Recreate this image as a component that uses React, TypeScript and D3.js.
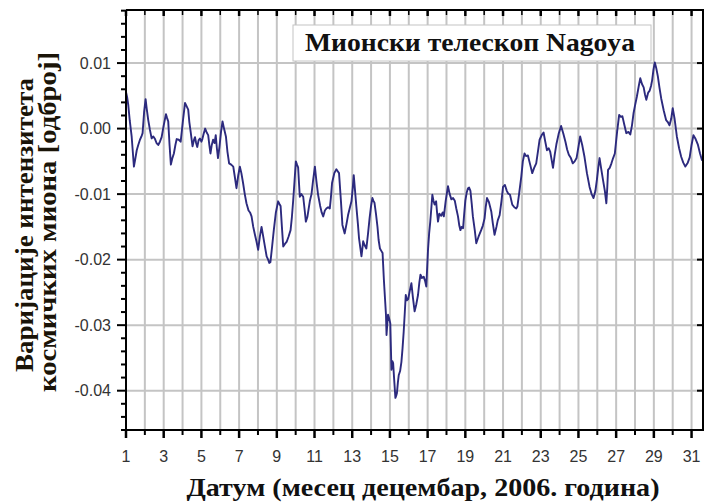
import React, { useEffect, useRef } from 'react';
import * as d3 from 'd3';

// hourly-ish muon variation (day of December 2006)
const days = [
  1.0, 1.06, 1.12, 1.2, 1.3, 1.36, 1.42, 1.5, 1.57, 1.65, 1.74, 1.82, 1.88, 1.96, 2.04, 2.1, 2.18, 2.27, 2.36, 2.45,
  2.54, 2.62, 2.71, 2.8, 2.89, 3.0, 3.12, 3.18, 3.24, 3.31, 3.38, 3.46, 3.54, 3.62, 3.69, 3.8, 3.9, 4.02, 4.13, 4.2,
  4.3, 4.36, 4.43, 4.53, 4.6, 4.66, 4.72, 4.78, 4.85, 4.92, 5.0, 5.05, 5.12, 5.2, 5.28, 5.36, 5.42, 5.48, 5.55, 5.62,
  5.7, 5.76, 5.82, 5.88, 5.96, 6.04, 6.12, 6.2, 6.3, 6.38, 6.47, 6.58, 6.69, 6.78, 6.86, 6.95, 7.04, 7.12, 7.21, 7.3,
  7.39, 7.5, 7.58, 7.66, 7.75, 7.84, 7.92, 8.01, 8.1, 8.19, 8.28, 8.37, 8.46, 8.54, 8.6, 8.66, 8.75, 8.84, 8.95, 9.07,
  9.14, 9.2, 9.27, 9.34, 9.43, 9.52, 9.62, 9.73, 9.8, 9.87, 9.94, 10.01, 10.07, 10.13, 10.18, 10.22, 10.3, 10.4, 10.48, 10.54,
  10.62, 10.75, 10.84, 10.92, 11.02, 11.1, 11.19, 11.3, 11.38, 11.46, 11.55, 11.63, 11.72, 11.81, 11.87, 11.93, 12.05, 12.16, 12.23, 12.3,
  12.4, 12.48, 12.6, 12.7, 12.78, 12.88, 12.96, 13.03, 13.08, 13.15, 13.22, 13.3, 13.36, 13.43, 13.49, 13.55, 13.58, 13.66, 13.75, 13.84,
  13.92, 14.0, 14.07, 14.12, 14.18, 14.26, 14.34, 14.4, 14.47, 14.55, 14.61, 14.68, 14.74, 14.79, 14.82, 14.86, 14.9, 14.96, 15.02, 15.08,
  15.13, 15.17, 15.23, 15.29, 15.33, 15.37, 15.42, 15.47, 15.54, 15.61, 15.67, 15.73, 15.79, 15.84, 15.9, 15.97, 16.05, 16.14, 16.22, 16.31,
  16.4, 16.49, 16.56, 16.62, 16.7, 16.79, 16.86, 16.93, 17.02, 17.08, 17.14, 17.2, 17.25, 17.31, 17.37, 17.45, 17.5, 17.55, 17.62, 17.72,
  17.8, 17.86, 17.96, 18.08, 18.17, 18.26, 18.35, 18.44, 18.52, 18.61, 18.68, 18.74, 18.8, 18.88, 18.94, 19.0, 19.07, 19.14, 19.2, 19.27,
  19.34, 19.4, 19.5, 19.58, 19.7, 19.84, 19.93, 20.02, 20.08, 20.15, 20.25, 20.38, 20.46, 20.55, 20.65, 20.72, 20.82, 20.92, 21.0, 21.1,
  21.2, 21.27, 21.37, 21.49, 21.6, 21.7, 21.76, 21.85, 21.97, 22.05, 22.14, 22.22, 22.32, 22.44, 22.55, 22.65, 22.76, 22.85, 22.94, 23.05,
  23.15, 23.24, 23.33, 23.42, 23.5, 23.58, 23.65, 23.74, 23.83, 23.95, 24.08, 24.2, 24.31, 24.4, 24.49, 24.6, 24.7, 24.8, 24.9, 25.0,
  25.09, 25.2, 25.32, 25.45, 25.59, 25.7, 25.8, 25.9, 25.98, 26.05, 26.12, 26.2, 26.3, 26.4, 26.48, 26.53, 26.57, 26.66, 26.75, 26.84,
  26.93, 27.05, 27.16, 27.25, 27.33, 27.44, 27.54, 27.65, 27.75, 27.84, 27.92, 28.0, 28.1, 28.2, 28.28, 28.37, 28.46, 28.53, 28.6, 28.7,
  28.78, 28.85, 28.91, 28.98, 29.05, 29.13, 29.21, 29.3, 29.39, 29.52, 29.65, 29.74, 29.83, 29.92, 30.0, 30.1, 30.22, 30.34, 30.45, 30.56,
  30.67, 30.8, 30.9, 31.0, 31.1, 31.2, 31.33, 31.45, 31.55, 31.66
];

const variation = [
  0.0056, 0.0048, 0.0036, 0.0012, -0.0012, -0.0035, -0.0058, -0.0045, -0.0033, -0.0025, -0.0017, -0.0012, -0.0007, 0.0025, 0.0045, 0.003, 0.0013, -0.0002, -0.0015, -0.0012,
  -0.0016, -0.0022, -0.0025, -0.002, -0.0013, 0.0005, 0.0022, 0.0016, 0.0011, -0.0025, -0.0055, -0.0045, -0.0038, -0.0025, -0.0016, -0.0017, -0.002, 0.0012, 0.0039, 0.0035,
  0.0029, 0.001, -0.0005, -0.0027, -0.0018, -0.0013, -0.0022, -0.0028, -0.0018, -0.0015, -0.002, -0.0016, -0.0008, 0.0, -0.0006, -0.001, -0.0025, -0.0038, -0.0025, -0.0017,
  -0.0022, -0.001, -0.003, -0.0045, -0.0027, -0.0005, 0.0011, 0.0, -0.0012, -0.0035, -0.0053, -0.0055, -0.0058, -0.0075, -0.0091, -0.0072, -0.0058, -0.0068, -0.0083, -0.01,
  -0.0114, -0.0125, -0.0128, -0.0134, -0.015, -0.0162, -0.0172, -0.0185, -0.0165, -0.015, -0.0165, -0.018, -0.0195, -0.02, -0.0205, -0.0204, -0.018, -0.0155, -0.0128, -0.0111,
  -0.0115, -0.0118, -0.015, -0.018, -0.0176, -0.0173, -0.0165, -0.0155, -0.0135, -0.0109, -0.008, -0.005, -0.0055, -0.0059, -0.0085, -0.0104, -0.01, -0.0104, -0.0125, -0.0142,
  -0.0135, -0.0111, -0.01, -0.008, -0.0058, -0.008, -0.0101, -0.0118, -0.0128, -0.0134, -0.0125, -0.0122, -0.012, -0.0122, -0.0105, -0.0083, -0.0068, -0.0062, -0.0065, -0.0068,
  -0.011, -0.0147, -0.016, -0.0145, -0.0132, -0.012, -0.0111, -0.009, -0.0071, -0.0095, -0.0119, -0.0145, -0.0167, -0.0182, -0.0195, -0.018, -0.0172, -0.0178, -0.0183, -0.016,
  -0.0137, -0.0118, -0.0106, -0.011, -0.0113, -0.013, -0.015, -0.017, -0.0183, -0.0187, -0.019, -0.0231, -0.026, -0.0284, -0.0315, -0.0298, -0.0284, -0.029, -0.0297, -0.0368,
  -0.0355, -0.0358, -0.0385, -0.0411, -0.0408, -0.0404, -0.0388, -0.0376, -0.037, -0.0356, -0.0335, -0.031, -0.028, -0.0254, -0.0262, -0.026, -0.0248, -0.0236, -0.0258, -0.0279,
  -0.0268, -0.0254, -0.0235, -0.0223, -0.0228, -0.0226, -0.0232, -0.0241, -0.0185, -0.016, -0.0142, -0.012, -0.0101, -0.011, -0.0116, -0.0111, -0.0128, -0.0142, -0.013, -0.0133,
  -0.0128, -0.0134, -0.011, -0.0088, -0.01, -0.0108, -0.0106, -0.011, -0.0122, -0.0134, -0.0148, -0.0155, -0.015, -0.0152, -0.013, -0.011, -0.0098, -0.0091, -0.009, -0.0095,
  -0.0115, -0.0134, -0.0155, -0.0175, -0.0165, -0.0155, -0.0148, -0.0137, -0.012, -0.0106, -0.0112, -0.0127, -0.0145, -0.0162, -0.015, -0.014, -0.0132, -0.011, -0.0089, -0.0086,
  -0.0095, -0.0099, -0.0101, -0.0116, -0.012, -0.0122, -0.0119, -0.01, -0.0073, -0.005, -0.0038, -0.0042, -0.0041, -0.0055, -0.0068, -0.006, -0.0053, -0.0035, -0.0017, -0.001,
  -0.0006, -0.002, -0.0033, -0.003, -0.0035, -0.0048, -0.006, -0.004, -0.0024, -0.0008, 0.0004, -0.0008, -0.002, -0.0032, -0.004, -0.0045, -0.0053, -0.005, -0.0045, -0.0028,
  -0.0012, -0.0025, -0.0043, -0.0068, -0.0089, -0.01, -0.0106, -0.0095, -0.0078, -0.006, -0.0045, -0.006, -0.0078, -0.0095, -0.0114, -0.009, -0.0063, -0.006, -0.0053, -0.0045,
  -0.0038, -0.0005, 0.0021, 0.0018, 0.0019, 0.0005, -0.0007, -0.0005, -0.0009, 0.0005, 0.0023, 0.0035, 0.0049, 0.0065, 0.0077, 0.0068, 0.0063, 0.0052, 0.0044, 0.0055,
  0.0058, 0.0065, 0.0074, 0.009, 0.0101, 0.0092, 0.008, 0.0062, 0.0046, 0.0028, 0.0013, 0.001, 0.0005, 0.0015, 0.0031, 0.0015, -0.0012, -0.003, -0.0043, -0.0052,
  -0.0058, -0.0052, -0.0044, -0.0025, -0.001, -0.0015, -0.0024, -0.0038, -0.0048, -0.005
];

const xTickDays = [1, 3, 5, 7, 9, 11, 13, 15, 17, 19, 21, 23, 25, 27, 29, 31];
const yTickValues = [0.01, 0.0, -0.01, -0.02, -0.03, -0.04];
const yTickLabels = ['0.01', '0.00', '-0.01', '-0.02', '-0.03', '-0.04'];

const title = 'Мионски телескоп Nagoya';
const xTitle = 'Датум (месец децембар, 2006. година)';
const yTitleLines = ['Варијације интензитета', 'космичких миона [одброј]'];

function App() {
  const svgRef = useRef(null);

  useEffect(() => {
    const W = 704, H = 503;
    const left = 126, right = 704, top = 10, bottom = 430;

    const svg = d3.select(svgRef.current);
    svg.selectAll('*').remove();
    svg.attr('width', W).attr('height', H);

    const x = d3.scaleLinear().domain([1, 31.66]).range([left, right]);
    const y = d3.scaleLinear().domain([-0.046, 0.0181]).range([bottom, top]);

    const serif = '"Liberation Serif", "Times New Roman", serif';
    const sans = '"Liberation Sans", Arial, sans-serif';

    svg.append('rect').attr('width', W).attr('height', H).attr('fill', '#fff');

    // grid
    const allDays = d3.range(1, 32);
    svg.append('g').selectAll('line')
      .data(allDays.slice(1))
      .enter().append('line')
      .attr('x1', d => x(d)).attr('x2', d => x(d))
      .attr('y1', top).attr('y2', bottom)
      .attr('stroke', '#c4c4c4')
      .attr('stroke-width', 2);

    svg.append('g').selectAll('line')
      .data(yTickValues)
      .enter().append('line')
      .attr('x1', left).attr('x2', right)
      .attr('y1', d => y(d)).attr('y2', d => y(d))
      .attr('stroke', '#c4c4c4')
      .attr('stroke-width', 2);

    // title box sits over the grid
    svg.append('rect')
      .attr('x', 293).attr('y', 25)
      .attr('width', 358).attr('height', 36)
      .attr('fill', '#fff')
      .attr('stroke', '#c4c4c4')
      .attr('stroke-width', 1);

    svg.append('text')
      .attr('x', 470).attr('y', 51)
      .attr('text-anchor', 'middle')
      .attr('textLength', 330)
      .attr('lengthAdjust', 'spacingAndGlyphs')
      .style('font-family', serif)
      .style('font-weight', 'bold')
      .style('font-size', '26px')
      .style('fill', '#111')
      .text(title);

    // series
    const pts = days.map((d, i) => [d, variation[i]]);
    const line = d3.line()
      .x(d => x(d[0]))
      .y(d => y(d[1]));

    svg.append('path')
      .datum(pts)
      .attr('d', line)
      .attr('fill', 'none')
      .attr('stroke', '#2c2a7e')
      .attr('stroke-width', 1.9)
      .attr('stroke-linejoin', 'round');

    // frame
    const frame = svg.append('g').attr('stroke', '#000').attr('stroke-width', 2);
    frame.append('line').attr('x1', left).attr('x2', right).attr('y1', top).attr('y2', top);
    frame.append('line').attr('x1', left).attr('x2', right).attr('y1', bottom).attr('y2', bottom);
    frame.append('line').attr('x1', left).attr('x2', left).attr('y1', top).attr('y2', bottom);
    frame.append('line').attr('x1', 703).attr('x2', 703).attr('y1', top).attr('y2', bottom);

    // x ticks, bottom (outward) and top (inward)
    frame.append('g').selectAll('line')
      .data(allDays)
      .enter().append('line')
      .attr('x1', d => x(d)).attr('x2', d => x(d))
      .attr('y1', bottom)
      .attr('y2', d => bottom + (d % 2 ? 8 : 5))
      .attr('stroke-width', d => (d % 2 ? 2.5 : 2));

    frame.append('g').selectAll('line')
      .data(allDays)
      .enter().append('line')
      .attr('x1', d => x(d)).attr('x2', d => x(d))
      .attr('y1', top)
      .attr('y2', d => top + (d % 2 ? 6 : 5))
      .attr('stroke-width', d => (d % 2 ? 2.5 : 1.5));

    // y ticks, left (outward) and right (inward)
    const minorY = d3.range(-46, 19, 2).map(v => v / 1000);
    frame.append('g').selectAll('line')
      .data(minorY)
      .enter().append('line')
      .attr('x1', d => left - (Math.abs(Math.round(d * 1000)) % 10 === 0 ? 9 : 5))
      .attr('x2', left)
      .attr('y1', d => y(d)).attr('y2', d => y(d));

    frame.append('g').selectAll('line')
      .data(yTickValues)
      .enter().append('line')
      .attr('x1', 697).attr('x2', 703)
      .attr('y1', d => y(d)).attr('y2', d => y(d));

    // tick labels
    svg.append('g').selectAll('text')
      .data(yTickValues)
      .enter().append('text')
      .attr('x', 111)
      .attr('y', d => y(d))
      .attr('dy', '0.36em')
      .attr('text-anchor', 'end')
      .style('font-family', sans)
      .style('font-size', '16px')
      .style('fill', '#333')
      .text((d, i) => yTickLabels[i]);

    svg.append('g').selectAll('text')
      .data(xTickDays)
      .enter().append('text')
      .attr('x', d => x(d))
      .attr('y', 462)
      .attr('text-anchor', 'middle')
      .style('font-family', sans)
      .style('font-size', '16px')
      .style('fill', '#333')
      .text(d => String(d));

    // axis titles
    svg.append('text')
      .attr('x', 423).attr('y', 496)
      .attr('text-anchor', 'middle')
      .attr('textLength', 473)
      .attr('lengthAdjust', 'spacingAndGlyphs')
      .style('font-family', serif)
      .style('font-weight', 'bold')
      .style('font-size', '25px')
      .style('fill', '#111')
      .text(xTitle);

    const yTitleSpec = [
      { x: 33, cy: 225, len: 294 },
      { x: 56, cy: 222, len: 340 }
    ];
    yTitleLines.forEach((t, i) => {
      const s = yTitleSpec[i];
      svg.append('text')
        .attr('transform', `translate(${s.x},${s.cy}) rotate(-90)`)
        .attr('text-anchor', 'middle')
        .attr('textLength', s.len)
        .attr('lengthAdjust', 'spacingAndGlyphs')
        .style('font-family', serif)
        .style('font-weight', 'bold')
        .style('font-size', '25px')
        .style('fill', '#1a1408')
        .text(t);
    });
  }, []);

  return (
    <svg
      ref={svgRef}
      style={{ position: 'absolute', left: 0, top: 0, display: 'block' }}
    />
  );
}

export default App;
